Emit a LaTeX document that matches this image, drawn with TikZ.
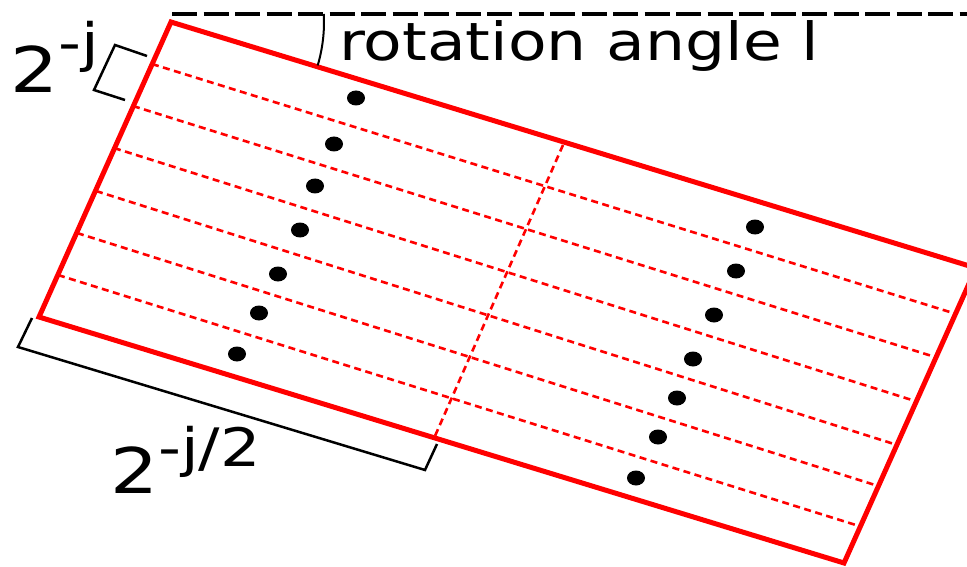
\documentclass[tikz,border=0pt]{standalone}
\usepackage{fontspec}
\usepackage{graphicx}
\setmainfont{DejaVu Sans}
\usetikzlibrary{calc,shapes.geometric}
\begin{document}
\begin{tikzpicture}[x=1pt,y=-1pt,
  frame/.style={draw=red, line width=5pt, line join=miter},
  gridline/.style={draw=red, line width=2.6pt, dash pattern=on 7pt off 4.5pt},
  refline/.style={draw=black, line width=4.5pt, dash pattern=on 25pt off 6.5pt},
  brk/.style={draw=black, line width=2.5pt},
  arcline/.style={draw=black, line width=2pt},
  pt/.style={ellipse, fill=black, minimum width=18pt, minimum height=15pt, inner sep=0pt},
  lbl/.style={inner sep=0pt, anchor=base west}]
\useasboundingbox (0,0) rectangle (967,567);
\clip (0,0) rectangle (967,567);
% corners
\coordinate (TL) at (171,22);
\coordinate (BL) at (39,317);
\coordinate (BR) at (844,563);
\coordinate (TR) at (976,268);
% grid lines
\coordinate (L1) at (152,64);  \coordinate (R1) at (953,313);
\coordinate (L2) at (133,106); \coordinate (R2) at (935,357);
\coordinate (L3) at (114,148); \coordinate (R3) at (915,401);
\coordinate (L4) at (96,191);  \coordinate (R4) at (894,444);
\coordinate (L5) at (77,233);  \coordinate (R5) at (875,485);
\coordinate (L6) at (58,275);  \coordinate (R6) at (859,526);
\foreach \i in {1,...,6} {\draw[gridline] (L\i) -- (R\i);}
\coordinate (M1) at (563,145);
\coordinate (M2) at (435,436);
\draw[gridline] (M1) -- (M2);
% frame
\draw[frame] (TL) -- (TR) -- (BR) -- (BL) -- cycle;
% reference line
\coordinate (H1) at (172,14);
\coordinate (H2) at (967,14);
\draw[refline] (H1) -- (H2);
% angle arc
\draw[arcline] ($(TL)+(-3:153)$) arc[start angle=-3, end angle=16.5, radius=153];
% brackets
\coordinate (a1) at (147,56); \coordinate (a2) at (115,45);
\coordinate (a3) at (94,90);  \coordinate (a4) at (125,100);
\draw[brk, line join=miter] (a1) -- (a2) -- (a3) -- (a4);
\coordinate (b1) at (32,318); \coordinate (b2) at (18,347);
\coordinate (b3) at (425,470); \coordinate (b4) at (437,444);
\draw[brk, line join=miter] (b1) -- (b2) -- (b3) -- (b4);
% dots
\foreach \n/\x/\y in {p1/356/98, p2/334/144, p3/315/186, p4/300/230, p5/278/274, p6/259/313, p7/237/354,
  q1/755/227, q2/736/271, q3/714/315, q4/693/359, q5/677/398, q6/658/437, q7/636/478}
  {\node[pt] (\n) at (\x,\y) {};}
% labels
\node[lbl] (rot) at (339,61) {\scalebox{1.2}[1]{\fontsize{52.6}{60}\selectfont rotation angle l}};
\node[lbl] (sj) at (10,93) {\scalebox{1.2}[1]{\fontsize{63}{70}\selectfont 2\raisebox{31pt}{\fontsize{53}{60}\selectfont -j}}};
\node[lbl] (sj2) at (110,493) {\scalebox{1.2}[1]{\fontsize{63}{70}\selectfont 2\raisebox{27pt}{\fontsize{53}{60}\selectfont -j/2}}};
\end{tikzpicture}
\end{document}
